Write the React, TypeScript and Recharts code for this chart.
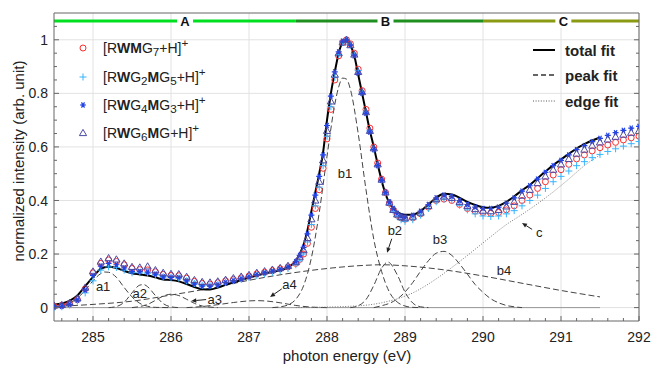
import React from 'react'
import {
  ComposedChart, Line, Scatter, XAxis, YAxis, CartesianGrid, ReferenceLine, ReferenceDot,
} from 'recharts'

// photon energy of every measured point (eV), finer step across the b1 peak
const energy = [
  284.5, 284.6, 284.7, 284.8, 284.9, 285.0, 285.1, 285.2, 285.3, 285.4, 285.5, 285.6, 285.7, 285.8, 285.9, 286.0,
  286.1, 286.2, 286.3, 286.4, 286.5, 286.6, 286.7, 286.8, 286.9, 287.0, 287.1, 287.2, 287.3, 287.4, 287.5, 287.6,
  287.65, 287.7, 287.75, 287.8, 287.85, 287.9, 287.95, 288.0, 288.05, 288.1, 288.15, 288.2, 288.25, 288.3,
  288.35, 288.4, 288.45, 288.5, 288.55, 288.6, 288.65, 288.7, 288.75, 288.8, 288.85, 288.9, 288.95, 289.0,
  289.1, 289.2, 289.3, 289.4, 289.5, 289.6, 289.7, 289.8, 289.9, 290.0, 290.1, 290.2, 290.3, 290.4, 290.5,
  290.6, 290.7, 290.8, 290.9, 291.0, 291.1, 291.2, 291.3, 291.4, 291.5, 291.6, 291.7, 291.8, 291.9, 292.0,
]

const totalFit = [
  0.011, 0.015, 0.025, 0.045, 0.08, 0.115, 0.145, 0.153, 0.148, 0.137, 0.128, 0.124, 0.12, 0.113, 0.105, 0.103,
  0.098, 0.088, 0.077, 0.069, 0.068, 0.075, 0.085, 0.094, 0.103, 0.112, 0.12, 0.127, 0.133, 0.14, 0.15, 0.175,
  0.2, 0.235, 0.29, 0.36, 0.43, 0.5, 0.58, 0.7, 0.8, 0.88, 0.95, 0.99, 1.0, 0.98,
  0.94, 0.87, 0.8, 0.73, 0.66, 0.6, 0.535, 0.475, 0.425, 0.39, 0.37, 0.358, 0.35, 0.347,
  0.347, 0.36, 0.385, 0.41, 0.425, 0.422, 0.41, 0.395, 0.383, 0.375, 0.373, 0.38, 0.395, 0.415, 0.438,
  0.458, 0.483, 0.508, 0.532, 0.553, 0.574, 0.594, 0.61, 0.624, 0.635, null, null, null, null, null,
]

// [RWMG7+H]+
const rwmg7 = [
  0.005, 0.008, 0.015, 0.03, 0.07, 0.13, 0.165, 0.178, 0.172, 0.16, 0.146, 0.142, 0.141, 0.134, 0.124, 0.12,
  0.119, 0.11, 0.098, 0.09, 0.088, 0.093, 0.1, 0.105, 0.111, 0.118, 0.126, 0.132, 0.138, 0.145, 0.152, 0.165,
  0.18, 0.2, 0.24, 0.3, 0.37, 0.44, 0.52, 0.63, 0.74, 0.85, 0.94, 0.99, 1.0, 0.985,
  0.95, 0.89, 0.81, 0.74, 0.67, 0.6, 0.54, 0.48, 0.43, 0.39, 0.365, 0.345, 0.335, 0.33,
  0.335, 0.35, 0.375, 0.4, 0.405, 0.4, 0.385, 0.37, 0.36, 0.355, 0.352, 0.355, 0.365, 0.38, 0.4,
  0.42, 0.445, 0.47, 0.495, 0.515, 0.535, 0.555, 0.57, 0.585, 0.597, 0.607, 0.617, 0.626, 0.634, 0.64,
]

// [RWG2MG5+H]+
const rwg2mg5 = [
  0.0, 0.003, 0.01, 0.025, 0.055, 0.1, 0.14, 0.152, 0.15, 0.14, 0.13, 0.13, 0.128, 0.122, 0.115, 0.112,
  0.11, 0.1, 0.09, 0.083, 0.082, 0.086, 0.094, 0.1, 0.106, 0.113, 0.12, 0.126, 0.132, 0.138, 0.146, 0.16,
  0.175, 0.2, 0.245, 0.31, 0.38, 0.45, 0.53, 0.64, 0.75, 0.86, 0.945, 0.99, 1.0, 0.98,
  0.945, 0.885, 0.805, 0.73, 0.66, 0.59, 0.53, 0.47, 0.425, 0.385, 0.36, 0.34, 0.328, 0.322,
  0.328, 0.345, 0.37, 0.395, 0.405, 0.4, 0.382, 0.365, 0.35, 0.342, 0.34, 0.342, 0.35, 0.362, 0.38,
  0.4, 0.42, 0.445, 0.47, 0.49, 0.51, 0.53, 0.545, 0.56, 0.572, 0.583, 0.593, 0.603, 0.612, 0.62,
]

// [RWG4MG3+H]+
const rwg4mg3 = [
  0.002, 0.005, 0.012, 0.028, 0.065, 0.12, 0.155, 0.165, 0.16, 0.148, 0.135, 0.135, 0.132, 0.125, 0.115, 0.113,
  0.112, 0.1, 0.088, 0.08, 0.08, 0.085, 0.093, 0.1, 0.107, 0.115, 0.123, 0.13, 0.136, 0.143, 0.152, 0.172,
  0.195, 0.225, 0.275, 0.345, 0.42, 0.49, 0.57, 0.68, 0.79, 0.88, 0.955, 0.995, 1.0, 0.98,
  0.94, 0.875, 0.8, 0.725, 0.655, 0.59, 0.53, 0.475, 0.43, 0.395, 0.37, 0.352, 0.342, 0.338,
  0.345, 0.36, 0.385, 0.41, 0.42, 0.415, 0.4, 0.385, 0.375, 0.37, 0.37, 0.375, 0.39, 0.41, 0.435,
  0.455, 0.48, 0.505, 0.53, 0.55, 0.57, 0.59, 0.605, 0.62, 0.632, 0.643, 0.653, 0.662, 0.67, 0.677,
]

// [RWG6MG+H]+
const rwg6mg = [
  0.008, 0.01, 0.018, 0.035, 0.075, 0.135, 0.172, 0.185, 0.18, 0.165, 0.152, 0.15, 0.154, 0.14, 0.13, 0.126,
  0.125, 0.115, 0.103, 0.096, 0.094, 0.098, 0.104, 0.11, 0.116, 0.122, 0.13, 0.136, 0.142, 0.148, 0.156, 0.17,
  0.19, 0.215, 0.26, 0.33, 0.4, 0.47, 0.55, 0.66, 0.77, 0.87, 0.95, 0.99, 1.0, 0.98,
  0.945, 0.88, 0.805, 0.73, 0.66, 0.595, 0.535, 0.478, 0.43, 0.392, 0.365, 0.348, 0.338, 0.334,
  0.34, 0.355, 0.38, 0.405, 0.415, 0.41, 0.395, 0.38, 0.368, 0.362, 0.36, 0.365, 0.378, 0.395, 0.418,
  0.44, 0.465, 0.49, 0.515, 0.535, 0.555, 0.575, 0.59, 0.605, 0.617, 0.628, 0.638, 0.646, 0.653, 0.66,
]

// fitted components, [energy, intensity]
const peakA1 = [[284.5, 0.004], [284.6, 0.008], [284.7, 0.017], [284.8, 0.035], [284.9, 0.065], [285.0, 0.1], [285.1, 0.127], [285.15, 0.133], [285.2, 0.132], [285.3, 0.113], [285.4, 0.075], [285.5, 0.04], [285.6, 0.016], [285.7, 0.005], [285.8, 0.001], [286.0, 0]]
const peakA2 = [[285.2, 0], [285.3, 0.004], [285.4, 0.02], [285.5, 0.055], [285.6, 0.084], [285.65, 0.086], [285.7, 0.078], [285.8, 0.045], [285.9, 0.015], [286.0, 0.003], [286.1, 0]]
const peakA3 = [[285.5, 0], [285.6, 0.004], [285.7, 0.012], [285.8, 0.027], [285.9, 0.043], [286.0, 0.05], [286.1, 0.045], [286.2, 0.031], [286.3, 0.016], [286.4, 0.006], [286.5, 0.002], [286.6, 0]]
const peakA4 = [[286.2, 0], [286.4, 0.004], [286.6, 0.011], [286.8, 0.019], [287.0, 0.025], [287.1, 0.026], [287.2, 0.025], [287.4, 0.018], [287.5, 0.013], [287.6, 0.008], [287.8, 0.002], [288.0, 0]]
const peakB1 = [[287.3, 0], [287.4, 0.003], [287.5, 0.01], [287.6, 0.031], [287.7, 0.082], [287.8, 0.186], [287.9, 0.354], [288.0, 0.565], [288.1, 0.759], [288.15, 0.824], [288.2, 0.857], [288.25, 0.853], [288.3, 0.815], [288.4, 0.65], [288.5, 0.44], [288.6, 0.255], [288.7, 0.135], [288.8, 0.058], [288.9, 0.021], [289.0, 0.006], [289.1, 0.001], [289.2, 0]]
const peakB2 = [[288.3, 0], [288.4, 0.007], [288.5, 0.03], [288.6, 0.083], [288.7, 0.147], [288.78, 0.17], [288.9, 0.123], [289.0, 0.058], [289.1, 0.017], [289.2, 0.003], [289.3, 0]]
const peakB3 = [[288.6, 0], [288.7, 0.007], [288.8, 0.016], [288.9, 0.032], [289.0, 0.058], [289.1, 0.094], [289.2, 0.136], [289.3, 0.175], [289.4, 0.203], [289.5, 0.21], [289.6, 0.195], [289.7, 0.163], [289.8, 0.125], [289.9, 0.086], [290.0, 0.057], [290.1, 0.033], [290.2, 0.018], [290.3, 0.008], [290.4, 0.003], [290.5, 0]]
const peakB4 = [[284.5, 0.004], [285.0, 0.012], [285.5, 0.024], [286.0, 0.047], [286.5, 0.072], [287.0, 0.102], [287.5, 0.127], [288.0, 0.146], [288.5, 0.158], [288.7, 0.16], [289.0, 0.156], [289.5, 0.141], [290.0, 0.118], [290.5, 0.091], [291.0, 0.064], [291.5, 0.04]]
const edgeFit = [[287.6, 0], [288.0, 0.002], [288.3, 0.005], [288.5, 0.009], [288.7, 0.018], [288.9, 0.033], [289.1, 0.055], [289.3, 0.088], [289.5, 0.128], [289.7, 0.172], [289.9, 0.218], [290.1, 0.265], [290.3, 0.31], [290.5, 0.348], [290.7, 0.388], [290.9, 0.432], [291.1, 0.48], [291.3, 0.53], [291.5, 0.57]]
const baseline = [[284.5, 0], [291.5, 0]]

// energy regions marked along the top
const sectionNames = ['A', 'B', 'C']
const sectionFrom = [284.5, 287.6, 290.0]
const sectionTo = [287.6, 290.0, 292.0]
const sectionLabelAt = [286.18, 288.75, 291.03]

const majorE = [285, 286, 287, 288, 289, 290, 291, 292]
const minorE = [284.6, 284.8, 285.2, 285.4, 285.6, 285.8, 286.2, 286.4, 286.6, 286.8, 287.2, 287.4, 287.6, 287.8, 288.2, 288.4, 288.6, 288.8, 289.2, 289.4, 289.6, 289.8, 290.2, 290.4, 290.6, 290.8, 291.2, 291.4, 291.6, 291.8]
const majorV = [0, 0.2, 0.4, 0.6, 0.8, 1]
const minorV = [0.05, 0.1, 0.15, 0.25, 0.3, 0.35, 0.45, 0.5, 0.55, 0.65, 0.7, 0.75, 0.85, 0.9, 0.95, 1.05]

const peaks = [peakA1, peakA2, peakA3, peakA4, peakB1, peakB2, peakB3, peakB4]

// where the component names and arrows sit (data units)
const notes = [
  { t: 'a1', e: 285.13, v: 0.08 },
  { t: 'a2', e: 285.6, v: 0.052 },
  { t: 'a3', e: 286.56, v: 0.032 },
  { t: 'a4', e: 287.52, v: 0.088 },
  { t: 'b1', e: 288.23, v: 0.5 },
  { t: 'b2', e: 288.87, v: 0.287 },
  { t: 'b3', e: 289.45, v: 0.256 },
  { t: 'b4', e: 290.27, v: 0.138 },
  { t: 'c', e: 290.72, v: 0.28 },
]
const arrows = [
  [[286.45, 0.03], [286.26, 0.025]],
  [[287.42, 0.07], [287.27, 0.04]],
  [[288.83, 0.257], [288.77, 0.205]],
  [[290.63, 0.292], [290.5, 0.316]],
]

const FRAME = '#666'
const RED = '#ff2d2d'
const CYAN = '#36b4ff'
const BLUE = '#2445e6'
const TRI = '#4a4aa6'
const SECTION_COLORS = ['#00e020', '#1f8f1f', '#8a9a12']
const FONT = '"Liberation Sans", Arial, sans-serif'
const E_DOMAIN = [284.5, 292]
const V_DOMAIN = [-0.05, 1.1]
const BAND = 1.07

const rows = energy.map((e, i) => ({
  e, total: totalFit[i], red: rwmg7[i], cyan: rwg2mg5[i], blue: rwg4mg3[i], tri: rwg6mg[i],
}))
const toRows = (pts: number[][]) => pts.map(([e, v]) => ({ e, v }))

const circleMark = (cx: number, cy: number) => (
  <circle cx={cx} cy={cy} r={3} fill="none" stroke={RED} strokeWidth={1} />
)
const plusMark = (cx: number, cy: number) => (
  <path d={`M${cx - 3.5},${cy}h7M${cx},${cy - 3.5}v7`} stroke={CYAN} strokeWidth={1} />
)
const starMark = (cx: number, cy: number) => (
  <g>
    <path d={`M${cx - 3},${cy}h6M${cx - 1.5},${cy - 2.6}l3,5.2M${cx + 1.5},${cy - 2.6}l-3,5.2`} stroke={BLUE} strokeWidth={1.2} />
    <circle cx={cx} cy={cy} r={1.5} fill={BLUE} />
  </g>
)
const triMark = (cx: number, cy: number) => (
  <path d={`M${cx},${cy - 3.6}L${cx + 3.6},${cy + 2.6}L${cx - 3.6},${cy + 2.6}Z`} fill="none" stroke={TRI} strokeWidth={1} />
)

const axisBase = {
  type: 'number' as const,
  allowDataOverflow: true,
  interval: 0 as const,
  tickSize: 0,
  tickMargin: 0,
  tickLine: false,
}

const isMajorE = (v: number) => majorE.includes(v)
const isMajorV = (v: number) => majorV.includes(v)

const BottomTick = (p: any) => {
  const major = isMajorE(p.payload.value)
  return (
    <g>
      <line x1={p.x} y1={p.y} x2={p.x} y2={p.y - (major ? 5 : 3)} stroke={FRAME} />
      {major && (
        <text x={p.x} y={p.y + 21} textAnchor="middle" fontSize={14} fill="#222" fontFamily={FONT}>
          {p.payload.value}
        </text>
      )}
    </g>
  )
}
const TopTick = (p: any) => (
  <line x1={p.x} y1={p.y} x2={p.x} y2={p.y + (isMajorE(p.payload.value) ? 5 : 3)} stroke={FRAME} />
)
const LeftTick = (p: any) => {
  const major = isMajorV(p.payload.value)
  return (
    <g>
      <line x1={p.x} y1={p.y} x2={p.x + (major ? 5 : 3)} y2={p.y} stroke={FRAME} />
      {major && (
        <text x={p.x - 6} y={p.y} dy="0.36em" textAnchor="end" fontSize={14} fill="#222" fontFamily={FONT}>
          {p.payload.value}
        </text>
      )}
    </g>
  )
}
const RightTick = (p: any) => (
  <line x1={p.x} y1={p.y} x2={p.x - (isMajorV(p.payload.value) ? 5 : 3)} y2={p.y} stroke={FRAME} />
)

const ArrowShape = (p: any) => {
  const { x1, y1, x2, y2 } = p
  const a = Math.atan2(y2 - y1, x2 - x1)
  const h = 5
  const w = 2.2
  const bx = x2 - h * Math.cos(a)
  const by = y2 - h * Math.sin(a)
  return (
    <g>
      <line x1={x1} y1={y1} x2={bx} y2={by} stroke="#222" strokeWidth={1} />
      <path
        d={`M${x2},${y2}L${bx - w * Math.sin(a)},${by + w * Math.cos(a)}L${bx + w * Math.sin(a)},${by - w * Math.cos(a)}Z`}
        fill="#222"
      />
    </g>
  )
}

const ids = { xAxisId: 'x', yAxisId: 'y' }

export default function App() {
  const allE = [...majorE, ...minorE].sort((a, b) => a - b)
  const allV = [...majorV, ...minorV].sort((a, b) => a - b)

  return (
    <div style={{ position: 'absolute', left: 0, top: 0, width: 651, height: 365, background: '#fff', fontFamily: FONT }}>
      <ComposedChart width={651} height={365} margin={{ top: 12, right: 11, bottom: 43, left: 53 }}>
        <XAxis {...axisBase} xAxisId="x" dataKey="e" domain={E_DOMAIN} ticks={allE} height={1}
          axisLine={{ stroke: FRAME }} tick={BottomTick} />
        <XAxis {...axisBase} xAxisId="xt" orientation="top" domain={E_DOMAIN} ticks={allE} height={1}
          axisLine={{ stroke: FRAME }} tick={TopTick} />
        <YAxis {...axisBase} yAxisId="y" domain={V_DOMAIN} ticks={allV} width={1}
          axisLine={{ stroke: FRAME }} tick={LeftTick} />
        <YAxis {...axisBase} yAxisId="yr" orientation="right" domain={V_DOMAIN} ticks={allV} width={1}
          axisLine={{ stroke: FRAME }} tick={RightTick} />
        <CartesianGrid xAxisId="x" yAxisId="y" stroke="#e2e2e2"
          verticalValues={majorE} horizontalValues={majorV} />

        <Line {...ids} data={toRows(baseline)} dataKey="v" stroke="#999" strokeWidth={1} dot={false}
          isAnimationActive={false} />
        {peaks.map((pk, i) => (
          <Line key={i} {...ids} data={toRows(pk)} dataKey="v" type="monotone" stroke="#444"
            strokeWidth={1} strokeDasharray="6 3" dot={false} isAnimationActive={false} />
        ))}
        <Line {...ids} data={toRows(edgeFit)} dataKey="v" type="monotone" stroke="#777"
          strokeWidth={1} strokeDasharray="1 1.6" dot={false} isAnimationActive={false} />

        <Scatter {...ids} data={rows} dataKey="red" shape={(p: any) => circleMark(p.cx, p.cy)} isAnimationActive={false} />
        <Scatter {...ids} data={rows} dataKey="cyan" shape={(p: any) => plusMark(p.cx, p.cy)} isAnimationActive={false} />
        <Scatter {...ids} data={rows} dataKey="blue" shape={(p: any) => starMark(p.cx, p.cy)} isAnimationActive={false} />
        <Scatter {...ids} data={rows} dataKey="tri" shape={(p: any) => triMark(p.cx, p.cy)} isAnimationActive={false} />

        <Line {...ids} data={rows} dataKey="total" type="monotone" stroke="#000" strokeWidth={2}
          dot={false} isAnimationActive={false} />

        {sectionNames.map((s, i) => (
          <ReferenceLine key={s} {...ids} stroke={SECTION_COLORS[i]} strokeWidth={3}
            segment={[{ x: sectionFrom[i], y: BAND }, { x: sectionTo[i], y: BAND }]} />
        ))}
        {sectionNames.map((s, i) => (
          <ReferenceDot key={'l' + s} {...ids} x={sectionLabelAt[i]} y={BAND}
            shape={(p: any) => (
              <g>
                <rect x={p.cx - 8} y={p.cy - 7} width={16} height={14} fill="#fff" />
                <text x={p.cx} y={p.cy} dy="0.36em" textAnchor="middle" fontSize={13} fontWeight="bold"
                  fill="#111" fontFamily={FONT}>{s}</text>
              </g>
            )} />
        ))}

        {notes.map((n) => (
          <ReferenceDot key={n.t} {...ids} x={n.e} y={n.v}
            shape={(p: any) => (
              <text x={p.cx} y={p.cy} dy="0.36em" textAnchor="middle" fontSize={13} fill="#222"
                fontFamily={FONT}>{n.t}</text>
            )} />
        ))}
        {arrows.map((a, i) => (
          <ReferenceLine key={'a' + i} {...ids}
            segment={[{ x: a[0][0], y: a[0][1] }, { x: a[1][0], y: a[1][1] }]}
            shape={ArrowShape} />
        ))}
      </ComposedChart>

      {/* sample legend */}
      <div style={{ position: 'absolute', left: 0, top: 0, pointerEvents: 'none' }}>
        {[
          { mark: circleMark, label: <>[R<b>WM</b>G<sub>7</sub>+H]<sup>+</sup></> },
          { mark: plusMark, label: <>[R<b>W</b>G<sub>2</sub><b>M</b>G<sub>5</sub>+H]<sup>+</sup></> },
          { mark: starMark, label: <>[R<b>W</b>G<sub>4</sub><b>M</b>G<sub>3</sub>+H]<sup>+</sup></> },
          { mark: triMark, label: <>[R<b>W</b>G<sub>6</sub><b>M</b>G+H]<sup>+</sup></> },
        ].map((r, i) => (
          <div key={i} style={{ position: 'absolute', left: 75, top: [48, 77, 105, 133][i] - 9, height: 18, display: 'flex', alignItems: 'center', whiteSpace: 'nowrap' }}>
            <svg width={16} height={18}>{r.mark(8, 9)}</svg>
            <span style={{ marginLeft: 12, fontSize: 14, color: '#222', lineHeight: '18px' }}>{r.label}</span>
          </div>
        ))}
      </div>

      {/* fit legend */}
      {[
        { dash: undefined, w: 2, c: '#000', label: 'total fit' },
        { dash: '5 3', w: 1.3, c: '#333', label: 'peak fit' },
        { dash: '1 1.6', w: 1, c: '#555', label: 'edge fit' },
      ].map((r, i) => (
        <div key={r.label} style={{ position: 'absolute', left: 533, top: [50, 75, 101][i] - 10, height: 20, display: 'flex', alignItems: 'center', whiteSpace: 'nowrap' }}>
          <svg width={22} height={20}><line x1={0} y1={10} x2={22} y2={10} stroke={r.c} strokeWidth={r.w} strokeDasharray={r.dash} /></svg>
          <span style={{ marginLeft: 10, fontSize: 15, fontWeight: 'bold', color: '#222' }}>{r.label}</span>
        </div>
      ))}

      <div style={{ position: 'absolute', left: 197, width: 300, top: 347, textAlign: 'center', fontSize: 15, color: '#222' }}>
        photon energy (eV)
      </div>
      <div style={{ position: 'absolute', left: 19 - 120, top: 161 - 9, width: 240, height: 18, lineHeight: '18px', textAlign: 'center', fontSize: 15, color: '#222', transform: 'rotate(-90deg)' }}>
        normalized intensity (arb. unit)
      </div>
    </div>
  )
}
